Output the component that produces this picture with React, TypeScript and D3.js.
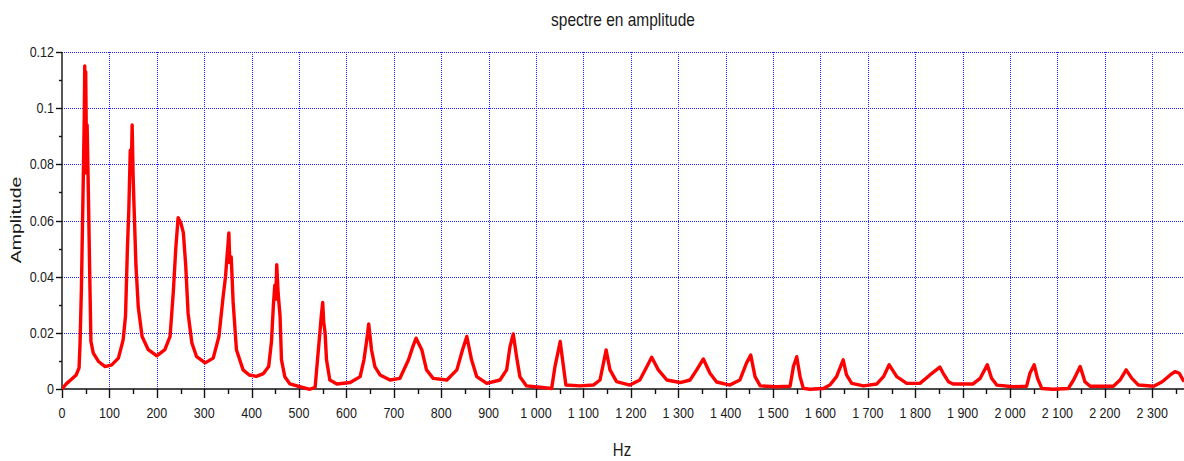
import React, { useEffect, useRef } from 'react';
import * as d3 from 'd3';

// spectrum: frequency (Hz) and amplitude
const freqHz = [
  0, 10, 20, 30, 36, 38, 41, 43, 45, 47, 48, 49, 50, 52, 53, 55, 57, 59, 61, 66, 77, 91,
  105, 119, 129, 134, 138, 141, 144, 146, 148, 150, 152, 156, 161, 169, 182, 200,
  217, 228, 235, 240, 245, 251, 256, 261, 266, 274, 284, 302,
  319, 331, 340, 345, 348, 350, 352, 354, 357, 361, 368, 382, 395,
  410, 425, 436, 442, 446, 449, 451, 453, 456, 460, 463, 470, 481, 502,
  523, 534, 539, 544, 547, 550, 552, 555, 558, 565, 580, 608,
  629, 637, 643, 647, 653, 660, 671, 692,
  713, 731, 740, 747, 759, 769, 783, 812,
  833, 845, 854, 864, 875, 896,
  924, 938, 945, 952, 959, 966, 980, 1008,
  1033, 1040, 1051, 1056, 1063, 1093,
  1121, 1135, 1142, 1148, 1156, 1170, 1198,
  1219, 1234, 1244, 1258, 1276, 1304,
  1325, 1339, 1353, 1367, 1381, 1409,
  1430, 1444, 1453, 1462, 1473, 1508,
  1536, 1543, 1550, 1557, 1564, 1578, 1606,
  1620, 1634, 1648, 1655, 1666, 1691,
  1719, 1733, 1745, 1761, 1782, 1810,
  1831, 1852, 1859, 1870, 1880, 1922,
  1937, 1952, 1961, 1972, 2007,
  2035, 2042, 2051, 2058, 2067, 2091,
  2123, 2134, 2148, 2158, 2169, 2218,
  2232, 2245, 2257, 2271, 2303,
  2321, 2338, 2348, 2357, 2367,
];

const amplitude = [
  0, 0.002, 0.0035, 0.005, 0.0075, 0.016, 0.036, 0.056, 0.076, 0.097, 0.115, 0.077, 0.113, 0.078, 0.094, 0.076, 0.056, 0.036, 0.017, 0.0128, 0.0098, 0.008,
  0.0086, 0.011, 0.0175, 0.026, 0.05, 0.064, 0.085, 0.077, 0.094, 0.076, 0.065, 0.044, 0.029, 0.0187, 0.014, 0.0118,
  0.014, 0.0187, 0.035, 0.05, 0.061, 0.059, 0.0557, 0.044, 0.027, 0.0164, 0.0115, 0.0093,
  0.011, 0.0187, 0.033, 0.04, 0.047, 0.051, 0.0556, 0.045, 0.047, 0.031, 0.014, 0.0068, 0.005,
  0.0045, 0.0055, 0.008, 0.017, 0.03, 0.037, 0.032, 0.0443, 0.034, 0.026, 0.0104, 0.0044, 0.0018, 0.0008,
  -0.0001, 0.0006, 0.0104, 0.02, 0.026, 0.0308, 0.024, 0.02, 0.0104, 0.0032, 0.0018, 0.0023,
  0.0044, 0.0104, 0.0175, 0.0232, 0.0139, 0.008, 0.005, 0.0032,
  0.0038, 0.0104, 0.015, 0.0181, 0.014, 0.0068, 0.0038, 0.0032,
  0.0068, 0.014, 0.0187, 0.0104, 0.0044, 0.002,
  0.0032, 0.0068, 0.015, 0.0196, 0.0115, 0.0044, 0.0011, 0.0006,
  0.0002, 0.008, 0.0169, 0.0104, 0.0014, 0.0011,
  0.0014, 0.0032, 0.009, 0.0139, 0.0068, 0.0026, 0.0014,
  0.0032, 0.008, 0.0113, 0.0068, 0.0032, 0.0023,
  0.0032, 0.0068, 0.0107, 0.0056, 0.0025, 0.0014,
  0.0032, 0.0092, 0.0121, 0.0044, 0.0011, 0.0008,
  0.001, 0.008, 0.0115, 0.0044, 0.0002, -0.0001, 0.0002,
  0.0014, 0.0044, 0.0104, 0.005, 0.002, 0.0011,
  0.0018, 0.0044, 0.0086, 0.0044, 0.002, 0.002,
  0.005, 0.0078, 0.0056, 0.0026, 0.0018, 0.0018,
  0.0038, 0.0086, 0.0038, 0.0014, 0.0008,
  0.001, 0.0056, 0.0086, 0.0038, 0.0002, -0.0001,
  0.0002, 0.0032, 0.008, 0.0026, 0.001, 0.001,
  0.0032, 0.0068, 0.0038, 0.0014, 0.001,
  0.0026, 0.005, 0.0062, 0.0056, 0.0026,
];

const xTicks = d3.range(0, 2400, 100);
const xMinorTicks = d3.range(50, 2400, 100);
const yTicks = [0, 0.02, 0.04, 0.06, 0.08, 0.1, 0.12];
const yMinorTicks = [0.01, 0.03, 0.05, 0.07, 0.09, 0.11];

const title = 'spectre en amplitude';
const xLabel = 'Hz';
const yLabel = 'Amplitude';

const App = () => {
  const svgRef = useRef<SVGSVGElement>(null);

  useEffect(() => {
    const width = 1184;
    const height = 461;
    const left = 62;
    const top = 52;
    const bottom = 389;

    const svg = d3.select(svgRef.current);
    svg.selectAll('*').remove();
    svg.attr('width', width).attr('height', height);

    const x = d3.scaleLinear().domain([0, 2367]).range([left, width]);
    const y = d3.scaleLinear().domain([0, 0.12]).range([bottom, top]);
    // snap grid/tick lines to pixel centres
    const px = (v: number) => Math.round(v) + 0.5;

    const fr = d3.formatLocale({ decimal: '.', thousands: ' ', grouping: [3], currency: ['', ''] });
    const fmtX = fr.format(',');
    const fmtY = (v: number) => String(+v.toFixed(2));

    const font = '"Liberation Sans", Arial, sans-serif';

    // grid
    const grid = svg.append('g')
      .attr('stroke', '#1f1fff')
      .attr('stroke-width', 1)
      .attr('stroke-dasharray', '1,1')
      .attr('shape-rendering', 'crispEdges');
    xTicks.filter(t => t > 0).forEach(t => {
      grid.append('line')
        .attr('x1', px(x(t))).attr('x2', px(x(t)))
        .attr('y1', top).attr('y2', bottom);
    });
    yTicks.filter(t => t > 0).forEach(t => {
      grid.append('line')
        .attr('x1', left).attr('x2', width)
        .attr('y1', px(y(t))).attr('y2', px(y(t)));
    });

    // axes
    const ax = svg.append('g').attr('stroke', '#111').attr('stroke-width', 1.4);
    ax.append('line').attr('x1', left).attr('x2', width).attr('y1', bottom).attr('y2', bottom);
    ax.append('line').attr('x1', left).attr('x2', left).attr('y1', top).attr('y2', bottom);
    xTicks.forEach(t => {
      ax.append('line').attr('x1', px(x(t))).attr('x2', px(x(t))).attr('y1', bottom).attr('y2', bottom + 9);
    });
    xMinorTicks.forEach(t => {
      ax.append('line').attr('x1', px(x(t))).attr('x2', px(x(t))).attr('y1', bottom).attr('y2', bottom + 5);
    });
    yTicks.forEach(t => {
      ax.append('line').attr('x1', left - 6).attr('x2', left).attr('y1', px(y(t))).attr('y2', px(y(t)));
    });
    yMinorTicks.forEach(t => {
      ax.append('line').attr('x1', left - 3).attr('x2', left).attr('y1', px(y(t))).attr('y2', px(y(t)));
    });

    // tick labels
    xTicks.forEach(t => {
      svg.append('text')
        .attr('transform', `translate(${x(t)},${418}) scale(1,1.15)`)
        .attr('text-anchor', 'middle')
        .attr('font-family', font)
        .attr('font-size', 12.5)
        .attr('fill', '#1a1a1a')
        .text(fmtX(t));
    });
    yTicks.forEach(t => {
      svg.append('text')
        .attr('transform', `translate(${left - 8},${y(t) + 5}) scale(1,1.15)`)
        .attr('text-anchor', 'end')
        .attr('font-family', font)
        .attr('font-size', 12.5)
        .attr('fill', '#1a1a1a')
        .text(fmtY(t));
    });

    // spectrum line
    svg.append('defs').append('clipPath').attr('id', 'plotClip')
      .append('rect').attr('x', left).attr('y', 0).attr('width', width - left).attr('height', bottom + 4);

    const pts: [number, number][] = freqHz.map((f, i) => [f, amplitude[i]]);
    const line = d3.line<[number, number]>().x(d => x(d[0])).y(d => y(d[1]));
    svg.append('path')
      .datum(pts)
      .attr('d', line)
      .attr('fill', 'none')
      .attr('stroke', '#ff0000')
      .attr('stroke-width', 3.4)
      .attr('stroke-linejoin', 'round')
      .attr('clip-path', 'url(#plotClip)');

    // titles
    svg.append('text')
      .attr('transform', 'translate(623,26) scale(1,1.2)')
      .attr('text-anchor', 'middle')
      .attr('font-family', font)
      .attr('font-size', 15.5)
      .attr('fill', '#1a1a1a')
      .text(title);
    svg.append('text')
      .attr('transform', 'translate(622,456) scale(1,1.2)')
      .attr('text-anchor', 'middle')
      .attr('font-family', font)
      .attr('font-size', 15)
      .attr('fill', '#1a1a1a')
      .text(xLabel);
    svg.append('text')
      .attr('transform', 'translate(21,220) rotate(-90) scale(1.3,1)')
      .attr('text-anchor', 'middle')
      .attr('font-family', font)
      .attr('font-size', 15)
      .attr('fill', '#1a1a1a')
      .text(yLabel);
  }, []);

  return (
    <svg ref={svgRef} style={{ position: 'absolute', left: 0, top: 0, background: '#fff' }} />
  );
};

export default App;
